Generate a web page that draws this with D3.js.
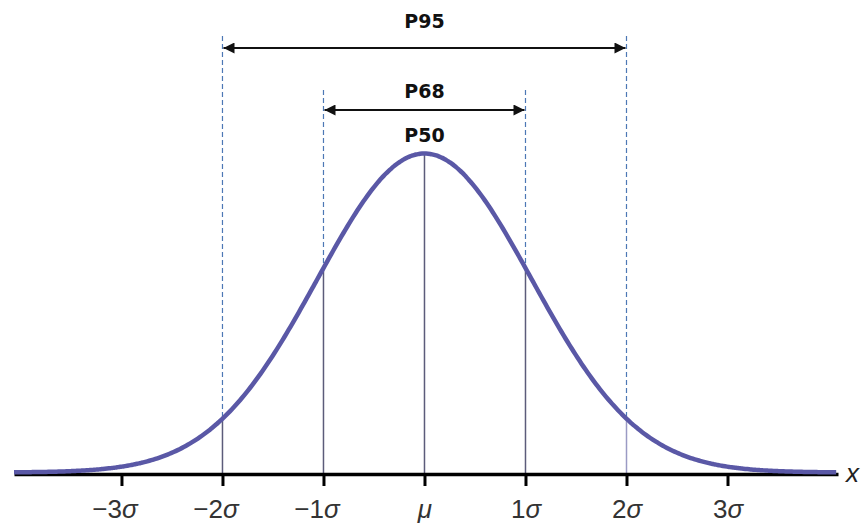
<!DOCTYPE html>
<html>
<head>
<meta charset="utf-8">
<script src="https://cdn.jsdelivr.net/npm/d3@7"></script>
<style>
  body { margin: 0; background: #fff; }
  svg { display: block; }
  .tick text { font-family: "Liberation Sans", Arial, sans-serif; font-size: 26px; fill: #333; }
  .plabel { font-family: "DejaVu Sans", Verdana, sans-serif; font-size: 19px; font-weight: bold; fill: #111; }
</style>
</head>
<body>
<svg id="chart" width="863" height="527"></svg>
<script>
// tick positions in sigma units, and their labels
var sigmaTicks = [-3, -2, -1, 0, 1, 2, 3];
var tickNums = ["\u22123", "\u22122", "\u22121", "", "1", "2", "3"];
var tickSyms = ["\u03c3", "\u03c3", "\u03c3", "\u03bc", "\u03c3", "\u03c3", "\u03c3"];

// percentile ranges shown by the arrows
var rangeNames = ["P95", "P68"];
var rangeFrom = [-2, -1];
var rangeTo = [2, 1];

// solid drop lines under the curve
var dropLines = [-2, -1, 0, 1, 2];

// curve as drawn (slightly wider than the tick spacing)
var mu = 0, curveSigma = 1.06;
var xMin = -4.064, xMax = 4.094;

var svg = d3.select("#chart");
var baseY = 474, peakY = 155;

var x = d3.scaleLinear().domain([xMin, xMax]).range([14, 838]);

function pdf(z) {
    return Math.exp(-0.5 * Math.pow((z - mu) / curveSigma, 2)) / (curveSigma * Math.sqrt(2 * Math.PI));
}

var pts = d3.range(xMin, xMax + 0.001, 0.02).map(function(z) { return {z: z, p: pdf(z)}; });
var y = d3.scaleLinear().domain([0, pdf(mu)]).range([baseY, peakY]);

// arrow markers
var defs = svg.append("defs");
defs.append("marker")
    .attr("id", "arr")
    .attr("viewBox", "0 0 10 10")
    .attr("refX", 10).attr("refY", 5)
    .attr("markerWidth", 17).attr("markerHeight", 11)
    .attr("markerUnits", "userSpaceOnUse")
    .attr("orient", "auto-start-reverse")
    .append("path")
    .attr("d", "M0,0 L10,5 L0,10 Z")
    .attr("fill", "#111");

var arrowY = [48, 110];
var dashTop = [36, 90];
var labelY = [28, 98];

// dashed guides above the curve
rangeNames.forEach(function(name, i) {
    [rangeFrom[i], rangeTo[i]].forEach(function(k) {
        svg.append("line")
            .attr("x1", x(k)).attr("x2", x(k))
            .attr("y1", dashTop[i]).attr("y2", y(pdf(k)))
            .attr("stroke", "#4d78b5")
            .attr("stroke-width", 1.2)
            .attr("stroke-dasharray", "5,3");
    });
    svg.append("line")
        .attr("x1", x(rangeFrom[i]) + 1).attr("x2", x(rangeTo[i]) - 1)
        .attr("y1", arrowY[i]).attr("y2", arrowY[i])
        .attr("stroke", "#111")
        .attr("stroke-width", 2.2)
        .attr("marker-start", "url(#arr)")
        .attr("marker-end", "url(#arr)");
    svg.append("text").attr("class", "plabel")
        .attr("x", x(mu)).attr("y", labelY[i]).attr("text-anchor", "middle").text(name);
});

svg.append("text").attr("class", "plabel")
    .attr("x", x(mu)).attr("y", 142).attr("text-anchor", "middle").text("P50");

// solid lines from baseline to curve
svg.selectAll(".drop")
    .data(dropLines)
    .enter().append("line")
    .attr("class", "drop")
    .attr("x1", function(d) { return x(d); })
    .attr("x2", function(d) { return x(d); })
    .attr("y1", baseY)
    .attr("y2", function(d) { return y(pdf(d)); })
    .attr("stroke", function(d) { return d === 2 ? "#9a9ac4" : "#5c5c7a"; })
    .attr("stroke-width", 1.5);

// axis
var axis = svg.append("g")
    .attr("transform", "translate(0," + baseY + ")")
    .call(d3.axisBottom(x).tickValues(sigmaTicks).tickSize(12).tickSizeOuter(0).tickFormat(""));

axis.select(".domain").attr("stroke", "#000").attr("stroke-width", 3.5);
axis.selectAll(".tick line").attr("stroke", "#000").attr("stroke-width", 3);
axis.selectAll(".tick text").remove();

axis.selectAll(".tick").each(function(d, i) {
    var t = d3.select(this).append("text")
        .attr("y", 44)
        .attr("text-anchor", "middle");
    if (tickNums[i]) t.append("tspan").text(tickNums[i]);
    t.append("tspan").attr("font-style", "italic").text(tickSyms[i]);
    if (d < 0) t.attr("dx", -7);
});

// curve
var line = d3.line()
    .x(function(d) { return x(d.z); })
    .y(function(d) { return y(d.p); })
    .curve(d3.curveBasis);

svg.append("path")
    .datum(pts)
    .attr("d", line)
    .attr("fill", "none")
    .attr("stroke", "#5a58a6")
    .attr("stroke-width", 4.5)
    .attr("transform", "translate(0,-1.5)");

// x label
svg.append("text")
    .attr("x", 846).attr("y", 482)
    .attr("font-family", "Liberation Sans, Arial, sans-serif")
    .attr("font-size", 26)
    .attr("font-style", "italic")
    .attr("fill", "#222")
    .text("x");
</script>
</body>
</html>
